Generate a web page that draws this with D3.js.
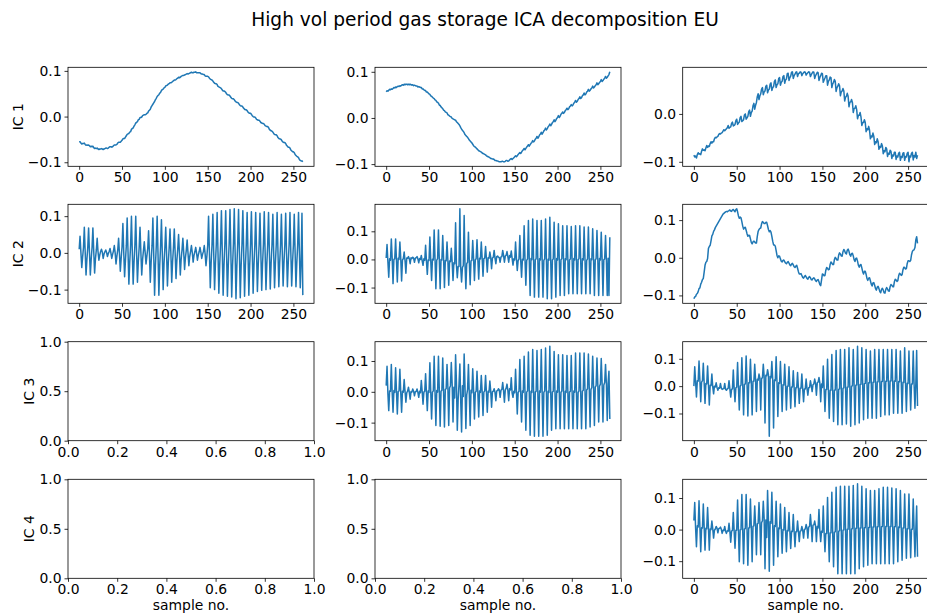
<!DOCTYPE html>
<html>
<head>
<meta charset="utf-8">
<script src="https://cdn.jsdelivr.net/npm/d3@7"></script>
<style>
  body { margin: 0; background: #fff; }
  svg text { font-family: "DejaVu Sans", sans-serif; fill: #000; }
</style>
</head>
<body>
<svg id="fig" width="927" height="614"></svg>
<script>
// ---- labels and ticks ----
const title = "High vol period gas storage ICA decomposition EU";
const rowLabels = ["IC 1", "IC 2", "IC 3", "IC 4"];
const xLabel = "sample no.";
const sampleTicks = [0, 50, 100, 150, 200, 250];
const valueTicks = [-0.1, 0.0, 0.1];
const emptyXTicks = [0, 0.2, 0.4, 0.6, 0.8, 1.0];
const emptyYTicks = [0, 0.5, 1.0];

// ---- component signals, in thousandths, one value per sample ----
// two-component decomposition
const comp2_ic1 = [
-56,-55,-58,-60,-59, -59,-58,-61,-63,-62, -63,-62,-64,-66,-65, -66,-65,-68,-70,-69, -70,-69,-71,-72,-71,
-71,-70,-71,-72,-71, -70,-69,-69,-70,-69, -67,-66,-66,-67,-66, -64,-62,-62,-62,-61, -58,-56,-56,-56,-54,
-52,-49,-48,-48,-45, -42,-39,-38,-37,-34, -33,-28,-26,-25,-21, -18,-14,-13,-11,-7, -6,-2,-2,-1,2,
3,4,4,5,7, 8,12,14,16,21, 24,27,30,33,37, 40,44,46,48,51, 53,57,59,60,63,
64,67,68,69,71, 72,74,74,75,77, 78,80,80,81,83, 84,86,85,86,88, 89,90,90,91,92,
93,94,93,94,95, 96,97,96,96,97, 97,98,96,96,96, 96,96,94,93,93, 92,92,89,88,88,
88,87,84,82,81, 80,78,75,73,72, 72,70,66,65,64, 63,61,58,56,56, 55,53,50,48,47,
47,45,42,40,39, 39,37,34,32,31, 31,29,26,24,23, 23,21,18,16,15, 15,13,10,8,7,
7,5,2,0,-1, -1,-3,-6,-7,-8, -8,-10,-13,-14,-15, -15,-17,-20,-21,-22, -22,-24,-28,-30,-31,
-32,-34,-37,-39,-40, -40,-42,-46,-48,-49, -49,-51,-54,-56,-57, -57,-59,-63,-65,-67, -67,-69,-73,-75,-77,
-77,-79,-83,-85,-87, -88,-90,-94,-96,-97, -97,-99];

const comp2_ic2 = [
10,45,2,-40,-12, 14,70,3,-60,-18, 14,68,2,-60,-18, 14,68,4,-55,-16, 8,40,3,-20,-6,
4,10,2,-15,-3, 3,8,1,-10,-2, 4,12,0,-15,-4, 5,20,0,-30,-9, 8,40,-2,-50,-15,
16,80,2,-65,-20, 19,95,3,-85,-25, 20,100,2,-85,-26, 20,100,3,-80,-24, 14,70,2,-60,-18,
6,30,1,-30,-9, 12,60,-2,-80,-24, 19,95,-3,-115,-34, 20,100,-2,-115,-34, 18,90,0,-100,-30,
14,70,-1,-90,-27, 13,65,0,-80,-24, 13,65,1,-70,-21, 10,50,0,-60,-18, 8,40,1,-45,-13,
7,35,0,-35,-10, 4,20,1,-25,-7, 3,15,0,-20,-6, 3,15,2,-15,-4, 4,20,-3,-35,-10,
20,100,2,-95,-28, 21,105,3,-100,-30, 22,110,2,-110,-33, 23,115,3,-115,-34, 23,115,2,-118,-35,
24,118,3,-120,-36, 24,120,2,-125,-37, 24,118,3,-122,-36, 23,115,2,-118,-35, 22,110,3,-115,-34,
22,112,2,-110,-33, 22,110,3,-105,-31, 22,108,2,-102,-30, 22,112,3,-100,-30, 22,110,2,-98,-29,
21,105,3,-95,-28, 22,110,2,-92,-27, 21,105,3,-90,-27, 22,108,2,-92,-27, 22,110,3,-90,-27,
21,105,2,-92,-27, 22,110,3,-95,-28, 108,-115];

// three-component decomposition
const comp3_ic1 = [
57,59,58,60,62, 61,63,62,64,66, 65,67,66,68,69, 68,70,69,71,72, 71,73,72,73,73,
72,73,72,73,72, 71,72,70,71,70, 69,69,67,68,67, 66,66,63,63,61, 60,59,56,56,54,
52,51,48,47,45, 43,42,39,38,35, 34,32,28,27,24, 22,20,17,16,13, 12,11,7,6,4,
3,2,-1,-2,-3, -4,-5,-8,-10,-12, -14,-17,-21,-24,-27, -29,-32,-36,-38,-40, -42,-45,-48,-50,-52,
-54,-57,-60,-62,-63, -65,-67,-69,-71,-72, -73,-74,-76,-77,-78, -79,-80,-82,-83,-84, -85,-86,-88,-88,-89,
-89,-90,-92,-92,-93, -93,-94,-95,-95,-95, -94,-94,-95,-95,-94, -92,-92,-94,-93,-91, -89,-88,-90,-88,-86,
-84,-82,-84,-82,-79, -77,-75,-77,-74,-71, -69,-66,-69,-66,-63, -61,-58,-61,-58,-55, -53,-49,-52,-50,-46,
-44,-40,-44,-41,-37, -35,-31,-35,-32,-28, -26,-22,-26,-23,-19, -17,-13,-17,-14,-10, -8,-4,-8,-5,-1,
1,5,1,4,8, 10,13,10,12,16, 18,21,18,20,24, 26,29,26,28,32, 34,38,34,36,40,
42,46,42,44,48, 50,54,50,52,56, 58,62,58,60,63, 65,69,65,67,70, 72,76,72,74,77,
79,83,79,81,84, 86,90,86,88,91, 94,100];

const comp3_ic2 = [
5,53,-8,-63,2, -3,73,4,-86,0, 2,73,-3,-80,4, 0,62,3,-77,-2, 3,26,-4,-49,5,
4,10,2,-15,6, 3,8,5,-10,4, 6,10,2,-12,3, 0,14,-5,-21,2, -3,50,-6,-53,-2,
-4,80,-3,-75,1, -2,105,2,-104,-3, 3,105,-2,-104,0, -2,85,3,-100,-4, -5,62,-3,-92,-6,
-8,40,-10,-75,-12, -15,130,-20,-65,-25, -25,180,-30,-80,-28, -22,156,-18,-104,-15, -10,97,-8,-90,-5,
-3,67,2,-75,-2, 3,70,-2,-70,4, 2,62,5,-60,3, 5,46,2,-45,6, 4,26,7,-33,5,
8,32,5,-15,10, 12,8,6,-10,9, 10,32,14,-10,12, 15,28,10,-10,14, 8,30,4,-20,2,
-2,62,3,-39,-4, 2,85,-3,-63,1, -2,120,2,-92,-3, 2,138,-2,-128,3, -1,144,2,-134,-2,
3,138,-1,-134,2, -2,138,3,-134,-3, 2,144,-2,-140,1, -3,150,2,-140,-2, 2,132,-3,-134,3,
-2,127,2,-128,-1, 3,120,-2,-128,2, -1,120,3,-122,-2, 2,117,-2,-122,3, -2,120,2,-122,-1,
3,120,-1,-122,2, -2,115,3,-122,-3, 2,115,-2,-122,2, -1,109,3,-128,-2, 3,103,-2,-128,3,
-2,97,2,-128,-1, 2,85,-3,-128,4, -128,79];

const comp3_ic3 = [
20,83,-5,-61,3, 2,89,-3,-66,4, -2,78,3,-72,1, 3,73,-2,-66,2, -1,40,2,-34,-3,
2,15,-2,-24,1, -1,9,2,-13,0, 1,9,-2,-18,2, -3,37,2,-40,-1, 2,59,-3,-61,3,
-2,94,2,-88,-1, 3,115,-2,-109,4, -1,115,4,-112,2, 5,110,-3,-114,8, 10,89,15,-109,12,
20,95,25,-98,15, -20,120,30,-125,-25, 25,90,-30,-130,20, -15,123,18,-119,-10, 8,89,-6,-109,5,
-3,75,4,-88,-2, 2,67,-3,-82,3, -2,53,2,-77,-1, 3,53,-2,-66,2, -1,35,3,-50,0,
2,10,-2,-29,3, 4,10,6,-18,5, 8,30,3,-34,6, 12,25,5,-29,10, 6,46,-4,-18,2,
-3,73,2,-72,-2, 2,105,-3,-98,3, -2,115,2,-125,-1, 3,129,-2,-141,2, -2,137,3,-144,-1,
2,134,-2,-144,3, -1,137,2,-144,-2, 3,142,-1,-141,2, -2,148,3,-125,-1, 2,131,-2,-120,3,
-1,120,2,-120,-2, 3,120,-1,-120,2, -2,118,3,-120,-1, 2,118,-2,-120,3, -1,126,2,-120,-2,
3,126,-1,-120,2, 5,126,8,-120,6, 10,123,12,-114,8, 14,115,18,-109,15, 20,110,22,-98,18,
25,108,28,-98,22, 30,89,26,-93,28, 67,-88];

// four-component decomposition
const comp4_ic1 = [
-86,-90,-88,-92,-85, -81,-84,-83,-85,-78, -73,-76,-75,-77,-71, -66,-70,-67,-68,-62, -58,-61,-58,-58,-52,
-49,-50,-48,-47,-43, -41,-42,-40,-39,-36, -33,-35,-33,-31,-29, -24,-30,-28,-27,-20, -17,-25,-24,-22,-14,
-11,-22,-19,-17,-8, -5,-16,-14,-12,-2, 0,-11,-8,-5,5, 8,-5,3,6,17, 22,10,18,24,36,
42,30,38,42,52, 55,40,46,48,58, 60,44,50,52,62, 65,49,55,57,68, 71,55,61,63,74,
76,60,66,68,78, 80,64,71,73,84, 85,70,76,79,87, 88,74,80,83,87, 88,78,84,85,88,
87,80,84,86,88, 87,81,84,86,88, 87,78,82,85,88, 87,74,80,83,87, 86,70,76,80,85,
84,66,71,75,80, 80,60,68,71,77, 76,55,63,66,72, 68,47,55,58,63, 59,38,46,48,53,
48,27,35,37,43, 37,15,24,25,30, 24,3,11,12,17, 9,-10,-3,-3,3, -6,-24,-18,-18,-12,
-18,-37,-31,-33,-26, -34,-52,-46,-48,-40, -47,-64,-58,-60,-52, -58,-74,-68,-70,-62, -67,-83,-77,-79,-70,
-73,-89,-82,-84,-76, -78,-93,-86,-88,-80, -80,-95,-88,-90,-82, -80,-97,-89,-91,-82, -81,-97,-89,-90,-82,
-80,-100,-88,-90,-82, -80,-96,-87,-90,-80, -93,-86];

const comp4_ic2 = [
-109,-104,-103,-97,-95, -90,-82,-80,-70,-65, -58,-55,-38,-20,-12, -10,-2,25,30,33, 45,58,62,70,74,
80,84,88,92,96, 100,104,108,112,116, 118,120,122,123,122, 124,125,127,124,123, 127,128,125,122,128,
130,122,111,105,108, 106,96,84,76,80, 81,73,64,57,60, 59,50,41,37,42, 44,42,39,39,57,
70,75,78,79,90, 96,94,91,91,94, 94,85,75,69,72, 68,57,44,34,34, 31,19,6,0,5,
4,-3,-9,-11,-7, -6,-10,-14,-16,-12, -10,-14,-19,-21,-17, -15,-19,-24,-26,-22, -20,-28,-37,-43,-43,
-42,-47,-52,-54,-50, -47,-51,-55,-57,-52, -50,-53,-58,-59,-55, -53,-56,-61,-63,-59, -58,-64,-71,-74,-59,
-43,-44,-48,-47,-33, -26,-28,-32,-31,-18, -11,-14,-18,-18,-5, 1,-2,-6,-6,7, 13,10,5,4,16,
22,18,12,10,20, 23,17,8,4,11, 12,5,-5,-10,-2, -1,-9,-20,-25,-19, -18,-27,-37,-43,-36,
-36,-44,-55,-60,-54, -53,-61,-70,-75,-67, -66,-73,-82,-86,-78, -76,-82,-90,-93,-84, -81,-86,-93,-94,-84,
-79,-83,-88,-89,-77, -71,-73,-77,-77,-64, -57,-59,-63,-61,-48, -41,-43,-47,-45,-32, -25,-26,-30,-29,-15,
-8,-8,-10,-7,8, 17,20,21,27,47, 56,38];

const comp4_ic3 = [
0,71,15,-40,20, 18,92,22,-57,15, 20,84,12,-63,10, 8,74,5,-69,3, 2,44,-2,-28,0,
-3,12,-5,-15,-6, -8,10,-6,-12,-10, -9,10,-12,-15,-10, -8,20,-10,-40,-12, -10,59,-8,-57,-6,
-4,86,-2,-87,0, 3,104,5,-105,6, 8,110,10,-109,12, 12,98,15,-105,18, 18,80,22,-93,25,
22,44,30,-87,28, 30,80,35,-135,40, 38,60,42,-183,35, 30,90,25,-153,22, 20,107,15,-111,12,
10,90,8,-93,5, 4,80,2,-87,0, 0,71,-2,-81,-3, -3,56,-5,-75,-6, -6,50,-8,-63,-8,
-8,44,-10,-57,-10, -10,26,-8,-33,-6, -5,20,2,-20,5, 8,26,10,-33,12, 15,32,12,-57,8,
-5,74,-10,-93,-12, -12,98,-14,-117,-15, -15,116,-16,-129,-15, -14,130,-12,-141,-12, -10,134,-8,-141,-8,
-6,134,-5,-138,-4, -3,140,-2,-147,0, 1,134,2,-141,3, 4,146,5,-135,6, 7,140,8,-123,9,
10,134,11,-117,12, 12,128,13,-117,14, 14,134,15,-117,15, 16,134,16,-111,17, 17,134,18,-105,18,
18,134,18,-105,19, 19,134,19,-99,19, 18,134,17,-99,17, 16,128,15,-99,14, 13,140,12,-93,11,
10,128,9,-87,8, 8,128,7,-81,6, 130,-73];

const comp4_ic4 = [
29,86,5,-54,12, 8,91,10,-70,6, 5,81,8,-65,4, 3,70,6,-65,2, 0,27,3,-27,-2,
2,10,5,-10,3, 4,8,1,-12,-2, -3,10,-5,-12,-4, -5,20,-6,-40,-4, -3,54,-5,-59,-2,
-2,94,-4,-102,-1, 0,111,-2,-108,2, 3,111,1,-113,5, 6,97,8,-102,10, 12,75,15,-80,18,
20,86,25,-80,22, 28,90,35,-124,30, -25,124,32,-132,25, 20,118,15,-113,12, 10,90,8,-86,5,
3,81,2,-75,0, -1,70,-2,-70,-3, -4,54,-5,-60,-5, -6,48,-6,-54,-7, -7,27,-6,-38,-5,
-4,10,-2,-27,0, 2,16,5,-27,8, 10,48,12,-38,14, 15,27,12,-38,10, 5,64,-2,-38,-5,
-8,75,-10,-70,-12, -12,102,-12,-102,-11, -10,118,-9,-118,-8, -7,134,-6,-140,-5, -4,137,-3,-140,-2,
-1,137,0,-140,1, 1,137,2,-140,2, 3,140,3,-140,4, 4,145,5,-124,5, 5,137,6,-118,6,
6,129,7,-113,7, 7,124,8,-108,8, 8,124,8,-108,9, 9,129,9,-108,9, 10,134,10,-108,10,
10,134,10,-108,10, 10,132,10,-108,9, 9,129,8,-102,8, 7,124,6,-97,5, 5,113,4,-91,3,
3,113,2,-89,1, 1,97,0,-86,-1, 75,-86];

// grid of panels: rows are components, columns are decompositions
const grid = [
  [comp2_ic1, comp3_ic1, comp4_ic1],
  [comp2_ic2, comp3_ic2, comp4_ic2],
  [null,      comp3_ic3, comp4_ic3],
  [null,      null,      comp4_ic4]
];

// ---- layout ----
const colLeft = [68, 375, 682.7];
const rowTop = [67.3, 204.3, 341.7, 479.3];
const axW = 246, axH = 99;
const tickFont = 13.9, labelFont = 13.9, titleFont = 18.6;
const lineColor = "#1f77b4";
const fmt1 = d3.format(".1f");

const svg = d3.select("#fig");
svg.append("rect").attr("width", 927).attr("height", 614).attr("fill", "#fff");

svg.append("text")
  .attr("x", 485).attr("y", 26)
  .attr("text-anchor", "middle")
  .attr("font-size", titleFont)
  .text(title);

function styleAxis(sel) {
  sel.select(".domain").remove();
  sel.selectAll(".tick line").attr("stroke", "#000").attr("stroke-width", 0.8);
  sel.selectAll(".tick text")
    .attr("font-size", tickFont)
    .attr("font-family", "DejaVu Sans, sans-serif")
    .attr("fill", "#000");
  sel.attr("font-size", null).attr("font-family", null);
}

grid.forEach((row, r) => {
  row.forEach((series, c) => {
    const g = svg.append("g")
      .attr("transform", `translate(${colLeft[c]},${rowTop[r]})`);

    let x, y, xTicks, yTicks, xFmt, yFmt;
    if (series) {
      const vals = series.map(v => v / 1000);
      const n = vals.length - 1;
      x = d3.scaleLinear().domain([-0.05 * n, 1.05 * n]).range([0, axW]);
      const [lo, hi] = d3.extent(vals);
      const pad = 0.05 * (hi - lo);
      y = d3.scaleLinear().domain([lo - pad, hi + pad]).range([axH, 0]);
      xTicks = sampleTicks;
      yTicks = valueTicks.filter(t => t >= lo - pad && t <= hi + pad);
      xFmt = d3.format("d");
      yFmt = fmt1;

      g.append("path")
        .datum(vals)
        .attr("fill", "none")
        .attr("stroke", lineColor)
        .attr("stroke-width", 1.5)
        .attr("stroke-linejoin", "round")
        .attr("d", d3.line().x((d, i) => x(i)).y(d => y(d)));
    } else {
      x = d3.scaleLinear().domain([0, 1]).range([0, axW]);
      y = d3.scaleLinear().domain([0, 1]).range([axH, 0]);
      xTicks = emptyXTicks;
      yTicks = emptyYTicks;
      xFmt = fmt1;
      yFmt = fmt1;
    }

    const xa = g.append("g")
      .attr("transform", `translate(0,${axH})`)
      .call(d3.axisBottom(x).tickValues(xTicks).tickFormat(xFmt)
        .tickSize(3.5).tickPadding(2.5));
    styleAxis(xa);

    const ya = g.append("g")
      .call(d3.axisLeft(y).tickValues(yTicks).tickFormat(yFmt)
        .tickSize(3.5).tickPadding(3));
    styleAxis(ya);

    // axes frame
    g.append("rect")
      .attr("width", axW).attr("height", axH)
      .attr("fill", "none")
      .attr("stroke", "#000")
      .attr("stroke-width", 0.8);

    if (c === 0) {
      const bb = ya.node().getBBox();
      const lx = bb.x - 5;
      g.append("text")
        .attr("transform", `translate(${lx},${axH / 2}) rotate(-90)`)
        .attr("text-anchor", "middle")
        .attr("font-size", labelFont)
        .text(rowLabels[r]);
    }
    if (r === grid.length - 1) {
      g.append("text")
        .attr("x", axW / 2).attr("y", axH + 32)
        .attr("text-anchor", "middle")
        .attr("font-size", labelFont)
        .text(xLabel);
    }
  });
});
</script>
</body>
</html>
